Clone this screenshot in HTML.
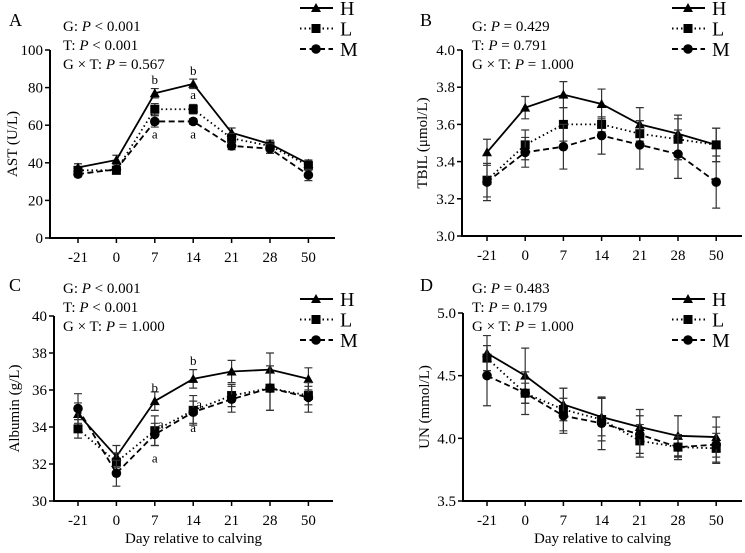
<!DOCTYPE html>
<html><head><meta charset="utf-8">
<style>
body{margin:0;background:#fff;}
svg{display:block;font-family:"Liberation Serif",serif;}
</style></head>
<body>
<svg id="chart" width="745" height="553" viewBox="0 0 745 553"></svg>
<script>
const categories=["-21","0","7","14","21","28","50"];
const seriesNames=["H","L","M"];
// Panel A AST
const astH=[37.5,41.5,77,82,56,50,39.5];
const astL=[36,36,68.5,68.5,53,49,38.5];
const astM=[34,36.5,62,62,49,47.5,33.5];
const astHe=[2,2.5,2.5,2.5,2.5,2,2];
const astLe=[2,2,3,2.5,2.5,2,2.5];
const astMe=[1.5,1.5,3,1.5,2,2.5,3];
const astTicks=[0,20,40,60,80,100];
// Panel B TBIL
const tbilH=[3.45,3.69,3.76,3.71,3.60,3.55,3.49];
const tbilL=[3.30,3.49,3.60,3.60,3.55,3.52,3.49];
const tbilM=[3.29,3.45,3.48,3.54,3.49,3.44,3.29];
const tbilHe=[0.07,0.06,0.07,0.08,0.09,0.10,0.09];
const tbilLe=[0.09,0.08,0.09,0.04,0.07,0.11,0.09];
const tbilMe=[0.10,0.08,0.12,0.10,0.13,0.13,0.14];
const tbilTicks=[3.0,3.2,3.4,3.6,3.8,4.0];
// Panel C Albumin
const albH=[34.7,32.4,35.4,36.6,37.0,37.1,36.6];
const albL=[33.9,32.1,33.8,34.9,35.7,36.1,35.7];
const albM=[35.0,31.5,33.6,34.8,35.5,36.1,35.6];
const albHe=[0.6,0.6,0.5,0.5,0.6,0.9,0.6];
const albLe=[0.5,0.5,0.8,0.8,0.6,1.2,0.5];
const albMe=[0.8,0.7,0.6,0.6,0.7,1.2,0.8];
const albTicks=[30,32,34,36,38,40];
// Panel D UN
const unH=[4.68,4.50,4.27,4.17,4.09,4.02,4.01];
const unL=[4.64,4.36,4.23,4.15,3.98,3.93,3.92];
const unM=[4.50,4.36,4.18,4.12,4.03,3.93,3.95];
const unHe=[0.14,0.22,0.13,0.15,0.14,0.16,0.16];
const unLe=[0.10,0.08,0.17,0.17,0.13,0.08,0.12];
const unMe=[0.24,0.17,0.14,0.21,0.15,0.10,0.14];
const unTicks=[3.5,4.0,4.5,5.0];

const NS="http://www.w3.org/2000/svg";
const svg=document.getElementById('chart');
function el(tag,attrs,parent){const e=document.createElementNS(NS,tag);for(const k in attrs)e.setAttribute(k,attrs[k]);(parent||svg).appendChild(e);return e;}
function txt(x,y,s,size,anchor,parent,html){const t=el('text',{x:x,y:y,'font-size':size,'text-anchor':anchor||'start',fill:'#000'},parent);if(html)t.innerHTML=s;else t.textContent=s;return t;}

const dash={H:'none',L:'1.5,3',M:'6,3.5'};

function panel(cfg){
  const g=el('g',{});
  
  
  const yS=v=>cfg.y0+(v-cfg.min)/(cfg.max-cfg.min)*(cfg.y1-cfg.y0);
  const xS=i=>cfg.xa+i*cfg.dx;
  // axes
  const ax=el('path',{d:`M${cfg.ax},${cfg.y1} L${cfg.ax},${cfg.y0} L${cfg.axEnd},${cfg.y0}`,stroke:'#000','stroke-width':2,fill:'none'},g);
  
  
  cfg.ticks.forEach(t=>{
    const y=yS(t);
    el('line',{x1:cfg.ax-5,x2:cfg.ax,y1:y,y2:y,stroke:'#000','stroke-width':1.5},g);
    const l=txt(cfg.ax-7,y+5,cfg.fmt(t),15,'end',g);
    
    
  });
  categories.forEach((c,i)=>{
    el('line',{x1:xS(i),x2:xS(i),y1:cfg.y0,y2:cfg.y0+5,stroke:'#000','stroke-width':1.5},g);
    const l=txt(xS(i),cfg.y0+24,c,15,'middle',g);
    
    
  });
  // y title
  const yt=txt(0,0,cfg.ytitle,15,'middle',g,true);
  yt.setAttribute('transform',`translate(${cfg.ytx},${(cfg.y0+cfg.y1)/2}) rotate(-90)`);
  
  
  // series
  cfg.series.forEach((s,si)=>{
    const name=seriesNames[si];
    const sg=el('g',{},g);
    
    
    s.v.forEach((v,i)=>{
      const x=xS(i);
      const e=s.e[i];
      el('path',{d:`M${x},${yS(v-e)} L${x},${yS(v+e)} M${x-4},${yS(v-e)} L${x+4},${yS(v-e)} M${x-4},${yS(v+e)} L${x+4},${yS(v+e)}`,stroke:'#333','stroke-width':1.2,fill:'none'},sg);
    });
    const pts=s.v.map((v,i)=>xS(i)+','+yS(v)).join(' ');
    const pl=el('polyline',{points:pts,fill:'none',stroke:'#000','stroke-width':1.8,'stroke-dasharray':dash[name]},sg);
    
    
    s.v.forEach((v,i)=>marker(name,xS(i),yS(v),sg));
  });
  // letters
  (cfg.letters||[]).forEach(L=>{
    const t=txt(xS(L.i)+(L.dx||0),yS(L.v)+L.dy,L.t,13,'middle',g);
    
    
  });
  // stats
  cfg.stats.forEach((s,k)=>{
    const t=txt(cfg.sx,cfg.sy+k*19,s,15,'start',g,true);
    
    
  });
  const pl=txt(cfg.lx,cfg.ly,cfg.label,18,'start',g);
  
  
  // legend
  seriesNames.forEach((n,k)=>{
    const y=cfg.legy+k*20.5;
    const lg=el('g',{},g);
    
    
    el('line',{x1:cfg.legx,x2:cfg.legx+33,y1:y,y2:y,stroke:'#000','stroke-width':2,'stroke-dasharray':dash[n]},lg);
    marker(n,cfg.legx+16,y,lg);
    txt(cfg.legx+40,y+7,n,20,'start',lg);
  });
  if(cfg.xtitle){
    const xt=txt((cfg.ax+cfg.axEnd)/2,543,'Day relative to calving',15,'middle',g);
    
    
  }
}
function marker(n,x,y,p){
  let m;
  if(n==='H')m=el('path',{d:`M${x},${y-5} L${x+5},${y+4} L${x-5},${y+4} Z`,fill:'#000'},p);
  else if(n==='L')m=el('rect',{x:x-4.5,y:y-4.5,width:9,height:9,fill:'#000'},p);
  else m=el('circle',{cx:x,cy:y,r:4.8,fill:'#000'},p);
  
  
}
const gxt='G × T: <tspan font-style="italic">P</tspan>';
panel({name:'panel-a',label:'A',lx:9,ly:26,ax:50,axEnd:335,xa:78,dx:38.4,y0:238,y1:50,min:0,max:100,ticks:astTicks,fmt:t=>String(t),
 ytitle:'AST (U/L)',ytx:17,series:[{v:astH,e:astHe},{v:astL,e:astLe},{v:astM,e:astMe}],
 stats:['G: <tspan font-style="italic">P</tspan> &lt; 0.001','T: <tspan font-style="italic">P</tspan> &lt; 0.001',gxt+' = 0.567'],sx:63,sy:31,
 legx:300,legy:8,
 letters:[{i:2,v:astH[2],dy:-9,t:'b'},{i:3,v:astH[3],dy:-9,t:'b'},{i:3,v:astL[3],dy:-10,t:'a'},{i:2,v:astM[2],dy:17,t:'a'},{i:3,v:astM[3],dy:17,t:'a'}]});
panel({name:'panel-b',label:'B',lx:420,ly:26,ax:462,axEnd:742,xa:487,dx:38.2,y0:236,y1:50,min:3.0,max:4.0,ticks:tbilTicks,fmt:t=>t.toFixed(1),
 ytitle:'TBIL (μmol/L)',ytx:427,series:[{v:tbilH,e:tbilHe},{v:tbilL,e:tbilLe},{v:tbilM,e:tbilMe}],
 stats:['G: <tspan font-style="italic">P</tspan> = 0.429','T: <tspan font-style="italic">P</tspan> = 0.791',gxt+' = 1.000'],sx:472,sy:31,
 legx:672,legy:8});
panel({name:'panel-c',label:'C',lx:9,ly:291,ax:54,axEnd:333,xa:78,dx:38.4,y0:501,y1:316,min:30,max:40,ticks:albTicks,fmt:t=>String(t),
 ytitle:'Albumin (g/L)',ytx:19,series:[{v:albH,e:albHe},{v:albL,e:albLe},{v:albM,e:albMe}],
 stats:['G: <tspan font-style="italic">P</tspan> &lt; 0.001','T: <tspan font-style="italic">P</tspan> &lt; 0.001',gxt+' = 1.000'],sx:63,sy:293,
 legx:300,legy:299,xtitle:true,
 letters:[{i:2,v:albH[2],dy:-9,t:'b'},{i:3,v:albH[3],dy:-14,t:'b'},{i:2,v:albL[2],dx:6,dy:-2,t:'a'},{i:3,v:albL[3],dx:6,dy:-2,t:'a'},{i:2,v:albM[2],dy:28,t:'a'},{i:3,v:albM[3],dy:20,t:'a'}]});
panel({name:'panel-d',label:'D',lx:420,ly:291,ax:463,axEnd:742,xa:487,dx:38.2,y0:501,y1:313,min:3.5,max:5.0,ticks:unTicks,fmt:t=>t.toFixed(1),
 ytitle:'UN (mmol/L)',ytx:429,series:[{v:unH,e:unHe},{v:unL,e:unLe},{v:unM,e:unMe}],
 stats:['G: <tspan font-style="italic">P</tspan> = 0.483','T: <tspan font-style="italic">P</tspan> = 0.179',gxt+' = 1.000'],sx:472,sy:293,
 legx:672,legy:299,xtitle:true});
</script>
</body></html>
